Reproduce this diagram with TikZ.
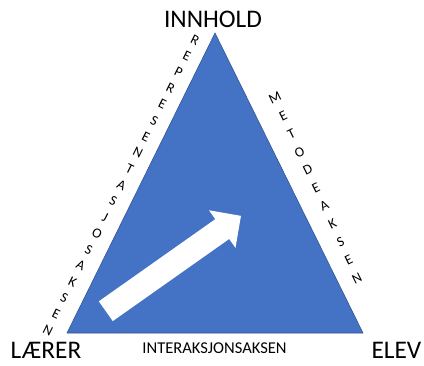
\documentclass[tikz,border=0pt]{standalone}
\usepackage{fontspec}
\setmainfont{Carlito}
\usetikzlibrary{calc}
\definecolor{triblue}{HTML}{4472C4}
\definecolor{triedge}{HTML}{2F528F}
\tikzset{
  cornerlabel/.style={font=\fontsize{19}{22}\selectfont,inner sep=0pt,anchor=base},
  axislabel/.style={font=\fontsize{12.4}{14}\selectfont,inner sep=0pt,anchor=base},
  sideletter/.style={font=\fontsize{10.5}{12}\selectfont,inner sep=0pt},
  triface/.style={fill=triblue,draw=triedge,line width=0.4pt},
  bigarrow/.style={fill=white}
}
\begin{document}
\begin{tikzpicture}[x=0.75pt,y=0.75pt]
  \useasboundingbox (0,0) rectangle (424,365);
  \coordinate (topc) at (215,332);
  \coordinate (leftc) at (67,32);
  \coordinate (rightc) at (363,32);
  \draw[triface] (topc) -- (leftc) -- (rightc) -- cycle;
  % arrow inside the triangle
  \begin{scope}[shift={(105.8,53.8)},rotate=35.2]
    \fill[bigarrow] (0,-12.1) -- (142.5,-12.1) -- (142.5,-23) -- (165.4,0)
      -- (142.5,23) -- (142.5,12.1) -- (0,12.1) -- cycle;
  \end{scope}
  \node[cornerlabel] (innhold) at (213,337) {INNHOLD};
  \node[cornerlabel] (laerer) at (46,7) {LÆRER};
  \node[cornerlabel] (elev) at (396.5,7) {ELEV};
  \node[axislabel] (interaksjon) at (214.5,12) {INTERAKSJONSAKSEN};
  % stacked letters along the sides
  \coordinate (repA) at (195,325);
  \coordinate (repB) at (48,35);
  \foreach \ch [count=\i from 0] in {R,E,P,R,E,S,E,N,T,A,S,J,O,S,A,K,S,E,N}
    \node[sideletter,rotate=-26.3] (rep\i) at ($(repA)!\i/18!(repB)$) {\ch};
  \coordinate (metA) at (275,267);
  \coordinate (metB) at (357,87);
  \foreach \ch [count=\i from 0] in {M,E,T,O,D,E,A,K,S,E,N}
    \node[sideletter,rotate=26.3] (met\i) at ($(metA)!\i/10!(metB)$) {\ch};
\end{tikzpicture}
\end{document}
